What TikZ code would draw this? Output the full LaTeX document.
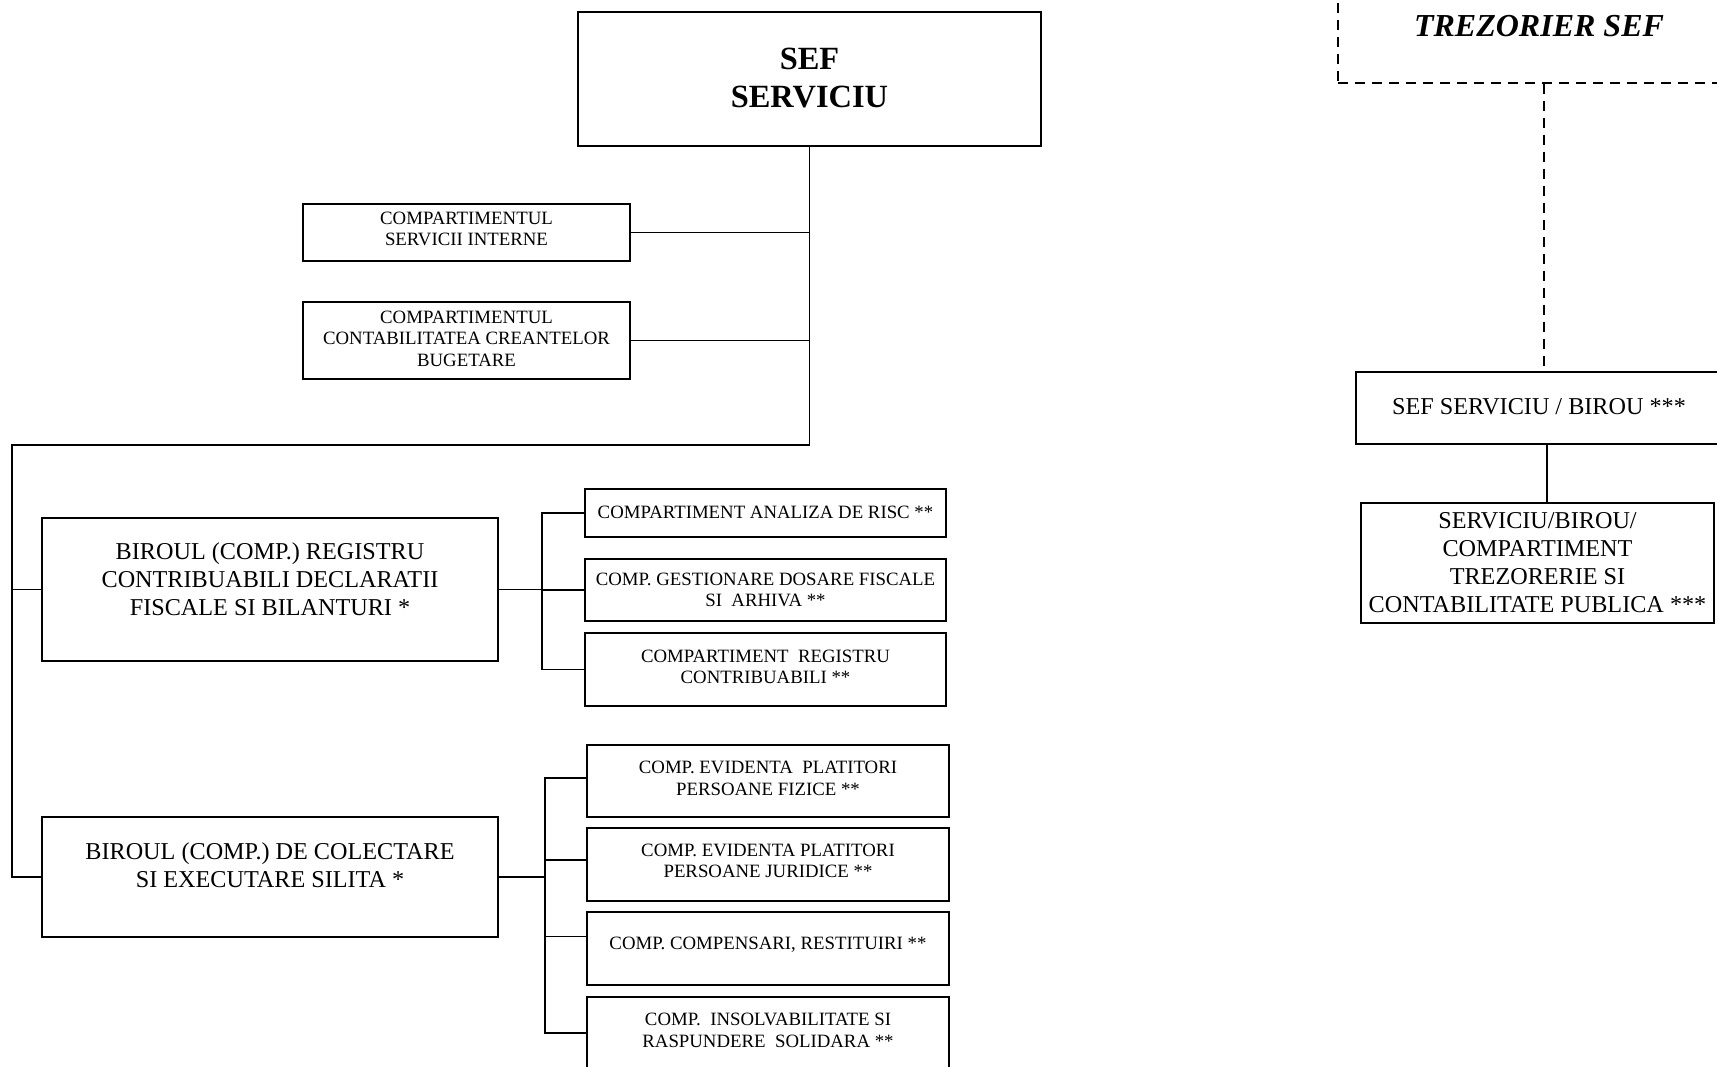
\documentclass[tikz,border=0pt]{standalone}
\usepackage{fontspec}
\setmainfont{Liberation Serif}
\usetikzlibrary{calc}
\begin{document}
\begin{tikzpicture}[x=1pt,y=-1pt,
  box/.style={draw, line width=1.5pt, rectangle, align=center, inner sep=0pt},
  smallbox/.style={box, font=\fontsize{18.8}{21.5}\selectfont},
  bigbox/.style={box, font=\fontsize{24.2}{28}\selectfont},
  conn/.style={line width=1.5pt},
  dconn/.style={line width=1.5pt, dash pattern=on 10pt off 7pt}]
\useasboundingbox (0,0) rectangle (1717,1067);

% left chart
\node[box, font=\fontsize{32.4}{38}\selectfont\bfseries, minimum width=463, minimum height=134, text depth=3pt] (sef) at (809.5,79) {SEF\\SERVICIU};
\node[smallbox, minimum width=327, minimum height=57, text depth=7pt] (si) at (466.5,232.5) {COMPARTIMENTUL\\SERVICII INTERNE};
\node[smallbox, minimum width=327, minimum height=77, text depth=4pt] (cc) at (466.5,340.5) {COMPARTIMENTUL\\CONTABILITATEA CREANTELOR\\BUGETARE};

\node[bigbox, minimum width=456, minimum height=143, text depth=20pt] (br) at (270,589.5) {BIROUL (COMP.) REGISTRU\\CONTRIBUABILI DECLARATII\\FISCALE SI BILANTURI *};
\node[bigbox, minimum width=456, minimum height=120, text depth=24pt] (col) at (270,877) {BIROUL (COMP.) DE COLECTARE\\SI EXECUTARE SILITA *};

\node[smallbox, minimum width=361, minimum height=48, text depth=2pt] (r1) at (765.5,513) {COMPARTIMENT ANALIZA DE RISC **};
\node[smallbox, minimum width=361, minimum height=62] (r2) at (765.5,590) {COMP. GESTIONARE DOSARE FISCALE\\SI\ \ ARHIVA **};
\node[smallbox, minimum width=361, minimum height=73, text depth=5pt] (r3) at (765.5,669.5) {COMPARTIMENT\ \ REGISTRU\\CONTRIBUABILI **};

\node[smallbox, minimum width=362, minimum height=72, text depth=5pt] (c1) at (768,781) {COMP. EVIDENTA\ \ PLATITORI\\PERSOANE FIZICE **};
\node[smallbox, minimum width=362, minimum height=73, text depth=7pt] (c2) at (768,864.5) {COMP. EVIDENTA PLATITORI\\PERSOANE JURIDICE **};
\node[smallbox, minimum width=362, minimum height=73, text depth=11pt] (c3) at (768,948.5) {COMP. COMPENSARI, RESTITUIRI **};
\node[smallbox, minimum width=362, minimum height=72, text depth=5pt] (c4) at (768,1033) {COMP.\ \ INSOLVABILITATE SI\\RASPUNDERE\ \ SOLIDARA **};

% connectors left chart
\coordinate (leftbus) at (12,445);
\coordinate (b1) at (542,0);
\coordinate (b2) at (545,0);
\draw[conn] (sef.south) |- (leftbus) |- (col.west);
\draw[conn] (br.west) -- (br.west -| leftbus);
\draw[conn] (si.east) -- (si.east -| sef.south);
\draw[conn] (cc.east) -- (cc.east -| sef.south);

\draw[conn] (br.east) -- (br.east -| b1);
\draw[conn] (r1.west) -- (r1.west -| b1) -- (r3.west -| b1) -- (r3.west);
\draw[conn] (r2.west) -- (r2.west -| b1);

\coordinate (c1s) at ($(c1.west)+(0,-3)$);
\coordinate (c2s) at ($(c2.west)+(0,-4.5)$);
\coordinate (c3s) at ($(c3.west)+(0,-12)$);
\draw[conn] (col.east) -- (col.east -| b2);
\draw[conn] (c1s) -- (c1s -| b2) -- (c4.west -| b2) -- (c4.west);
\draw[conn] (c2s) -- (c2s -| b2);
\draw[conn] (c3s) -- (c3s -| b2);

% right chart
\node[draw, dconn, rectangle, inner sep=0pt, minimum width=402, minimum height=114, font=\fontsize{32}{38}\selectfont\bfseries\itshape] (ts) at (1539,26) {TREZORIER SEF};
\node[bigbox, minimum width=366, minimum height=72, text depth=4pt] (sb) at (1539,408) {SEF SERVICIU / BIROU ***};
\node[bigbox, minimum width=353, minimum height=120] (sv) at (1537.5,563) {SERVICIU/BIROU/\\COMPARTIMENT\\TREZORERIE SI\\CONTABILITATE PUBLICA ***};

\coordinate (dashx) at (1544,0);
\coordinate (solidx) at (1547,0);
\draw[dconn] (ts.south -| dashx) -- (sb.north -| dashx);
\draw[conn] (sb.south -| solidx) -- (sv.north -| solidx);
\end{tikzpicture}
\end{document}
